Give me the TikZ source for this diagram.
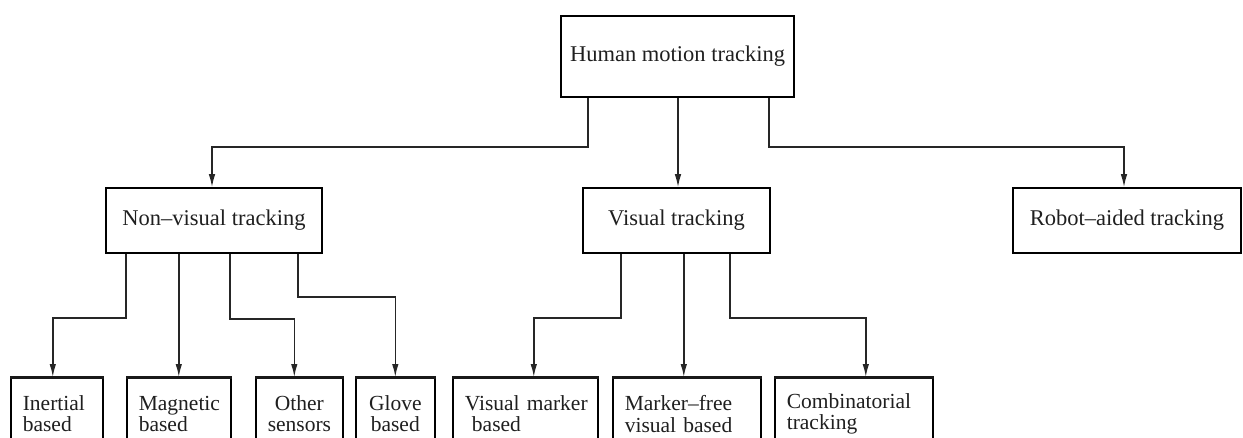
\documentclass[tikz,border=0pt]{standalone}
\usepackage{fontspec}
\setmainfont{Liberation Serif}
\usetikzlibrary{arrows.meta}
\tikzset{
  box/.style={draw, line width=1.6pt, rectangle, inner sep=0pt, align=center,
              font=\fontsize{22.5}{20}\selectfont, text=black!88},
  leaf/.style={draw, line width=1.6pt, rectangle, anchor=north west, inner xsep=12pt,
               inner ysep=12pt, minimum height=72pt, font=\fontsize{21.5}{21.5}\selectfont,
               text=black!88},
  conn/.style={line width=1.4pt, black!85, -{Latex[length=13pt,width=6.5pt]}},
  topedge/.style={line width=3pt, black!90}
}
\begin{document}
\begin{tikzpicture}[x=1pt,y=-1pt]
\useasboundingbox (0,0) rectangle (1243,437);
\clip (0,0) rectangle (1243,437);
% top
\node[box, minimum width=233pt, minimum height=81pt] (hmt) at (677.5,56.5) {Human motion tracking};
% middle level
\node[box, minimum width=216pt, minimum height=65pt] (nv) at (214,220.5) {Non--visual tracking};
\node[box, minimum width=187pt, minimum height=65pt] (vis) at (676.5,220.5) {Visual tracking};
\node[box, minimum width=228pt, minimum height=65pt] (rob) at (1127,220.5) {Robot--aided tracking};
% bottom level
\node[leaf, text width=68pt, align=left] (in) at (10,377) {Inertial\\based};
\node[leaf, text width=80pt, align=left] (mag) at (126,377) {Magnetic\\based};
\node[leaf, text width=63pt, align=center] (oth) at (255,377) {Other\\sensors};
\node[leaf, text width=55pt, align=center] (glo) at (355,377) {Glove\\based};
\node[leaf, text width=121pt, align=left] (vm) at (452,377) {\mbox{Visual marker}\\\ based};
\node[leaf, text width=124pt, align=left] (mf) at (612,377) {\mbox{Marker--free}\\\mbox{visual based}};
\node[leaf, text width=134pt, align=left] (com) at (774,377) {\mbox{Combinatorial}\\tracking};
\foreach \n in {in,mag,oth,glo,vm,mf,com}{
  \draw[topedge] (\n.north west) -- (\n.north east);
}
% connectors from top
\draw[conn] (hmt.south) ++(-89.5,0) -- ++(0,49) -| ([xshift=-2pt]nv.north);
\draw[conn] (hmt.south -| vis.north) ++(1.5,0) -- ([xshift=1.5pt]vis.north);
\draw[conn] (hmt.south) ++(91.5,0) -- ++(0,49) -| ([xshift=-3pt]rob.north);
% connectors from non-visual
\draw[conn] (nv.south) ++(-88,0) -- ++(0,64) -| ([xshift=-4pt]in.north);
\draw[conn] (mag.north |- nv.south) -- (mag.north);
\draw[conn] (nv.south) ++(16,0) -- ++(0,65) -| ([xshift=-5pt]oth.north);
\draw[conn] (nv.south) ++(84,0) -- ++(0,43) -| (glo.north);
% connectors from visual
\draw[conn] (vis.south) ++(-55.5,0) -- ++(0,64) -| ([xshift=8.5pt]vm.north);
\draw[conn] (mf.north |- vis.south) ++(-3,0) -- ([xshift=-3pt]mf.north);
\draw[conn] (vis.south) ++(53.5,0) -- ++(0,64) -| ([xshift=12pt]com.north);
\end{tikzpicture}
\end{document}
